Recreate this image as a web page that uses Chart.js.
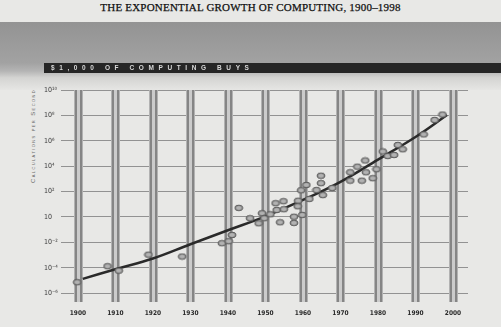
<!DOCTYPE html>
<html lang="en">
<head>
  <meta charset="UTF-8" />
  <title>The Exponential Growth of Computing, 1900-1998</title>
  <script src="https://cdn.jsdelivr.net/npm/chart.js"></script>
  <style>
    body {
      margin: 0;
      width: 501px;
      height: 327px;
      overflow: hidden;
      background: #e8e8e6;
      position: relative;
      font-family: "Liberation Sans", sans-serif;
    }
    .title {
      position: absolute;
      top: 1px; left: 0; width: 501px;
      text-align: center;
      font-family: "Liberation Serif", serif;
      font-size: 11px;
      color: #111;
      letter-spacing: 0.2px;
      -webkit-text-stroke: 0.25px #111;
    }
    .band {
      position: absolute;
      top: 22px; left: 0; width: 501px; height: 68px;
      background: linear-gradient(to bottom, #939393 0%, #a2a2a2 60%, #b4b4b4 72%, #d4d4d2 82%, #e6e6e4 100%);
    }
    .band-bar {
      position: absolute;
      top: 63px; left: 44px; right: 0; height: 10px;
      background: #262626;
    }
    .ytitle {
      position: absolute;
      left: 33px; top: 136px;
      transform: translate(-50%, -50%) rotate(-90deg);
      font-size: 6px;
      font-variant: small-caps;
      letter-spacing: 1.4px;
      color: #6a6a6a;
      white-space: nowrap;
    }
    canvas {
      position: absolute;
      top: 0; left: 0;
    }
  </style>
</head>
<body>
  <div class="title">THE EXPONENTIAL GROWTH OF COMPUTING, 1900–1998</div>
  <div class="band"></div>
  <div class="band-bar"></div>
  <div class="ytitle">Calculations per Second</div>
  <canvas id="growthChart" width="501" height="327"></canvas>
  <script>
    const bandText = "$1,000 OF COMPUTING BUYS";

    // decade bars on the x axis
    const decadeYears = [1900, 1910, 1920, 1930, 1940, 1950, 1960, 1970, 1980, 1990, 2000];
    // y ticks as powers of ten, with their printed labels
    const tickExps = [-6, -4, -2, 0, 2, 4, 6, 8, 10];
    const tickLabels = ["10⁻⁶", "10⁻⁴", "10⁻²", "10", "10²", "10⁴", "10⁶", "10⁸", "10¹⁰"];

    // machines: year and log10(calculations per second per $1,000)
    const pointYears = [1899.8, 1907.9, 1910.9, 1918.8, 1927.8, 1938.4, 1940.2, 1941.1, 1942.9, 1945.9,
      1948.2, 1949.1, 1949.7, 1951.3, 1952.7, 1953.0, 1954.8, 1954.9, 1953.9, 1957.6,
      1957.6, 1958.7, 1958.6, 1959.8, 1959.5, 1960.9, 1961.7, 1963.6, 1964.8, 1964.8,
      1965.3, 1967.8, 1972.6, 1972.6, 1974.5, 1975.7, 1976.6, 1976.8, 1978.6, 1979.6,
      1981.3, 1982.6, 1984.3, 1985.3, 1986.6, 1992.2, 1995.1, 1997.2];
    const pointExps = [-5.14, -3.88, -4.23, -2.97, -3.12, -2.07, -1.91, -1.42, 0.71, -0.10,
      -0.50, 0.29, -0.10, 0.21, 1.08, 0.55, 1.24, 0.61, -0.42, 0.02,
      -0.47, 1.28, 0.84, 0.16, 2.10, 2.52, 1.42, 2.12, 3.25, 2.66,
      1.72, 2.28, 3.52, 2.86, 3.96, 2.86, 4.45, 3.52, 3.05, 3.76,
      5.16, 4.80, 4.88, 5.67, 5.33, 6.50, 7.64, 8.07];

    // trend curve
    const trendYears = [1901.3, 1910, 1920, 1930, 1940, 1950, 1960, 1970, 1980, 1990, 1998.4];
    const trendExps = [-4.88, -4.12, -3.27, -2.15, -1.05, 0.05, 1.34, 2.77, 4.52, 6.3, 8.03];

    const labelFont = "'Liberation Sans Narrow', 'DejaVu Sans Condensed', 'Liberation Sans', sans-serif";

    function makeDot() {
      const c = document.createElement("canvas");
      c.width = 10; c.height = 8;
      const g = c.getContext("2d");
      g.beginPath();
      g.ellipse(5, 4, 4, 2.8, 0, 0, Math.PI * 2);
      g.fillStyle = "#9c9c9c";
      g.fill();
      g.lineWidth = 1;
      g.strokeStyle = "#5a5a5a";
      g.stroke();
      g.beginPath();
      g.ellipse(5, 4, 1.6, 1, 0, 0, Math.PI * 2);
      g.strokeStyle = "#c0c0c0";
      g.stroke();
      return c;
    }

    // striped vertical bars at every decade tick
    const decadeBars = {
      id: "decadeBars",
      beforeDatasetsDraw(chart) {
        const { ctx, chartArea, scales } = chart;
        const h = chartArea.bottom - chartArea.top;
        ctx.save();
        scales.x.ticks.forEach(t => {
          const c = Math.round(scales.x.getPixelForValue(t.value));
          const l = c - 4;
          ctx.fillStyle = "#b2b2b2"; ctx.fillRect(l, chartArea.top, 9, h);
          ctx.fillStyle = "#858585"; ctx.fillRect(l + 1, chartArea.top, 2, h);
          ctx.fillStyle = "#858585"; ctx.fillRect(l + 6, chartArea.top, 2, h);
          ctx.fillStyle = "#cbcbcb"; ctx.fillRect(l + 3, chartArea.top, 3, h);
        });
        ctx.restore();
      },
      afterDraw(chart) {
        const ctx = chart.ctx;
        ctx.save();
        ctx.font = "bold 6.5px 'Liberation Sans', sans-serif";
        ctx.letterSpacing = "4.6px";
        ctx.fillStyle = "#d8d8d8";
        ctx.textBaseline = "middle";
        ctx.fillText(bandText, 51, 68.5);
        ctx.restore();
      }
    };

    const ctx = document.getElementById("growthChart").getContext("2d");
    new Chart(ctx, {
      data: {
        datasets: [
          {
            type: "line",
            data: trendYears.map((y, i) => ({ x: y, y: Math.pow(10, trendExps[i]) })),
            borderColor: "#2a2a2a",
            borderWidth: 2.5,
            pointRadius: 0,
            tension: 0.4,
            order: 2
          },
          {
            type: "scatter",
            data: pointYears.map((y, i) => ({ x: y, y: Math.pow(10, pointExps[i]) })),
            pointStyle: makeDot(),
            order: 1
          }
        ]
      },
      options: {
        responsive: false,
        animation: false,
        layout: { padding: { left: 44, top: 90, right: 33, bottom: 0 } },
        plugins: {
          legend: { display: false },
          tooltip: { enabled: false }
        },
        scales: {
          x: {
            type: "linear",
            min: 1895.5,
            max: 2004,
            afterBuildTicks: s => { s.ticks = decadeYears.map(v => ({ value: v })); },
            afterFit: s => { s.height = 25; },
            grid: { display: false, drawTicks: false },
            border: { display: false },
            ticks: {
              padding: 7,
              color: "#2a2a2a",
              font: { family: labelFont, size: 6.5, weight: "bold" },
              callback: v => String(v)
            }
          },
          y: {
            type: "logarithmic",
            min: Math.pow(10, -6.7),
            max: Math.pow(10, 10),
            afterBuildTicks: s => { s.ticks = tickExps.map(e => ({ value: Math.pow(10, e) })); },
            afterFit: s => { s.width = 17; },
            grid: { color: "#929292", lineWidth: 1, drawTicks: false },
            border: { display: false },
            ticks: {
              crossAlign: "far",
              color: "#3a3a3a",
              font: { family: labelFont, size: 7 },
              callback: (v, i) => tickLabels[i]
            }
          }
        }
      },
      plugins: [decadeBars]
    });
  </script>
</body>
</html>
